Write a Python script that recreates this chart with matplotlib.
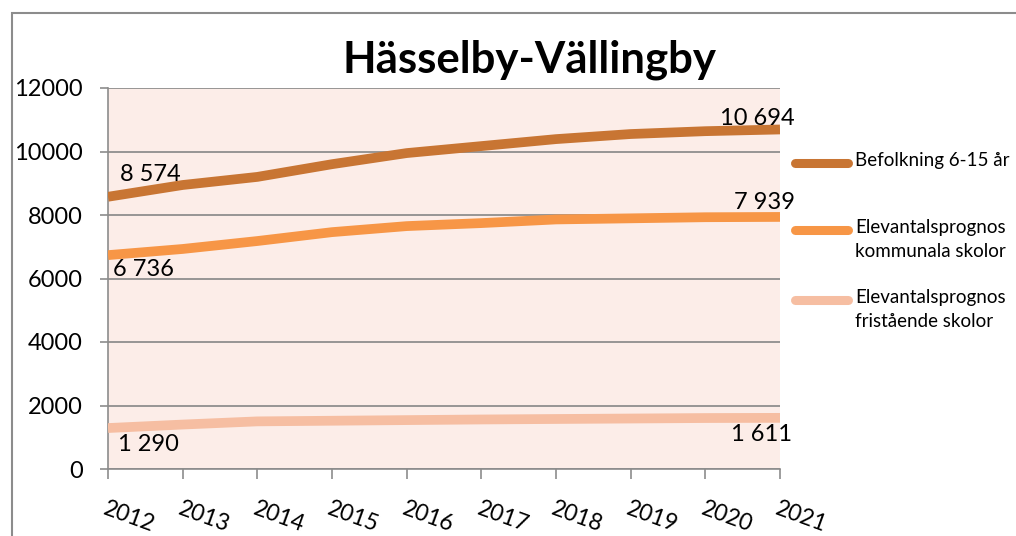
import matplotlib
matplotlib.use("Agg")
import matplotlib.pyplot as plt
from matplotlib.lines import Line2D
from matplotlib.patches import Rectangle

years = [2012, 2013, 2014, 2015, 2016, 2017, 2018, 2019, 2020, 2021]
befolkning = [8574, 8945, 9200, 9600, 9950, 10170, 10390, 10550, 10640, 10694]
kommunala = [6736, 6930, 7180, 7460, 7650, 7745, 7860, 7895, 7930, 7939]
fristaende = [1290, 1400, 1500, 1520, 1540, 1560, 1575, 1590, 1605, 1611]
series_names = ["Befolkning 6-15 år", "Elevantalsprognos\nkommunala skolor",
                "Elevantalsprognos\nfristående skolor"]
colors = ["#C87533", "#F79646", "#F6BEA2"]
yticks = [0, 2000, 4000, 6000, 8000, 10000, 12000]

plt.rcParams['font.family'] = ['Lato', 'DejaVu Sans']

fig = plt.figure(figsize=(10.16, 5.36), dpi=100)
ax = fig.add_axes([108/1016, 1-469/536, (780-108)/1016, (469-88)/536])
ax.set_facecolor("#FCEDE8")

for vals, c in zip([befolkning, kommunala, fristaende], colors):
    ax.plot(years, vals, color=c, lw=7, solid_capstyle='butt', zorder=3)

ax.set_xlim(years[0], years[-1])
ax.set_ylim(0, 12000)
ax.set_yticks(yticks)
ax.set_yticklabels([str(t) for t in yticks], fontsize=17)
ax.set_xticks(years)
ax.set_xticklabels([str(y) for y in years], fontsize=16.5, rotation=-20,
                   ha='left', va='top', rotation_mode='anchor')
ax.tick_params(axis='y', length=6, width=1.2, color="#8C8C8C", pad=12)
ax.tick_params(axis='x', length=7, width=1.2, color="#8C8C8C", pad=14)
ax.grid(axis='y', color="#868686", lw=1.2, zorder=1)
for s in ['top', 'right']:
    ax.spines[s].set_visible(False)
for s in ['left', 'bottom']:
    ax.spines[s].set_color("#8C8C8C")
    ax.spines[s].set_linewidth(1.2)

fmt = lambda v: f"{v:,}".replace(",", " ")
fs = 17
# start labels
ax.annotate(fmt(befolkning[0]), (years[0], befolkning[0]), xytext=(12, 22),
            textcoords='offset pixels', ha='left', va='center', fontsize=fs)
ax.annotate(fmt(kommunala[0]), (years[0], kommunala[0]), xytext=(5, -14),
            textcoords='offset pixels', ha='left', va='center', fontsize=fs)
ax.annotate(fmt(fristaende[0]), (years[0], fristaende[0]), xytext=(10, -16),
            textcoords='offset pixels', ha='left', va='center', fontsize=fs)
# end labels
ax.annotate(fmt(befolkning[-1]), (years[-1], befolkning[-1]), xytext=(15, 11),
            textcoords='offset pixels', ha='right', va='center', fontsize=fs)
ax.annotate(fmt(kommunala[-1]), (years[-1], kommunala[-1]), xytext=(15, 14),
            textcoords='offset pixels', ha='right', va='center', fontsize=fs)
ax.annotate(fmt(fristaende[-1]), (years[-1], fristaende[-1]), xytext=(12, -17),
            textcoords='offset pixels', ha='right', va='center', fontsize=fs)

fig.text(530/1016, 1-60/536, "Hässelby-Vällingby", ha='center', va='center',
         fontsize=31.5, fontweight='bold')

# legend
leg_y = [163, 230, 300]
for yy, name, c in zip(leg_y, series_names, colors):
    fig.add_artist(Line2D([795/1016, 848/1016], [1-yy/536, 1-yy/536],
                          color=c, lw=6.5, solid_capstyle='round'))
    fig.text(855/1016, 1-(yy-11)/536, name, ha='left', va='top',
             fontsize=13.5, linespacing=1.5)

# outer border
fig.add_artist(Rectangle((11.5/1016, -0.1), 1.2, 1-12.5/536+0.1,
                         transform=fig.transFigure, fill=False,
                         edgecolor="#8C8C8C", lw=1.5))

fig.savefig("out.png", dpi=100)
